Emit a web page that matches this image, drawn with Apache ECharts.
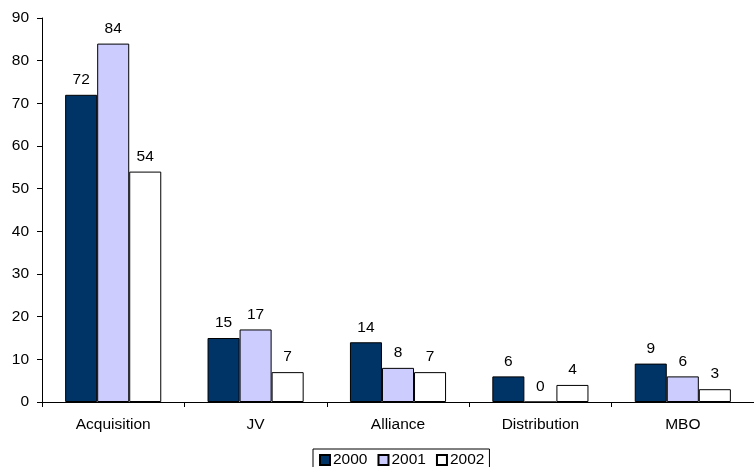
<!DOCTYPE html>
<html><head><meta charset="utf-8">
<script src="https://cdn.jsdelivr.net/npm/echarts@6/dist/echarts.min.js"></script>
<style>html,body{margin:0;padding:0;background:#fff}#c{width:754px;height:467px}</style>
</head><body><div id="c"></div>
<script>
var categories = ['Acquisition', 'JV', 'Alliance', 'Distribution', 'MBO'];
var years = ['2000', '2001', '2002'];
var s2000 = [72, 15, 14, 6, 9];
var s2001 = [84, 17, 8, 0, 6];
var s2002 = [54, 7, 7, 4, 3];
var colors = ['#003366', '#CCCCFF', '#FFFFFF'];
var seriesData = [s2000, s2001, s2002];

var chart = echarts.init(document.getElementById('c'), null, {renderer: 'canvas'});
var font = 'Liberation Sans, Arial, sans-serif';
var fs = 15.5;
chart.setOption({
  animation: false,
  textStyle: {fontFamily: font},
  grid: {left: 42, top: 18, width: 721, height: 384, containLabel: false},
  legend: {
    data: years, top: 449, left: 313,
    itemWidth: 10, itemHeight: 10, itemGap: 10,
    borderColor: '#000', borderWidth: 1, padding: [3, 5, 3, 6],
    textStyle: {fontSize: fs, color: '#000', fontFamily: font, padding: [0, 0, 0, -2]},
    icon: 'rect'
  },
  xAxis: {
    type: 'category', data: categories,
    axisLine: {lineStyle: {color: '#000', width: 1}},
    axisTick: {show: true, length: 5, lineStyle: {color: '#000'}},
    axisLabel: {fontSize: fs, color: '#000', margin: 15, fontFamily: font}
  },
  yAxis: {
    type: 'value', min: 0, max: 90, interval: 10,
    axisLine: {show: true, lineStyle: {color: '#000', width: 1}},
    axisTick: {show: true, length: 5, lineStyle: {color: '#000'}},
    splitLine: {show: false},
    axisLabel: {fontSize: fs, color: '#000', margin: 13, fontFamily: font}
  },
  series: years.map(function (y, i) {
    return {
      name: y, type: 'bar', data: seriesData[i],
      barGap: '0%', barCategoryGap: '32.5%',
      itemStyle: {color: colors[i], borderColor: '#000', borderWidth: 1},
      label: {show: true, position: 'top', fontSize: fs, color: '#000', distance: 7, fontFamily: font}
    };
  })
});
</script></body></html>
